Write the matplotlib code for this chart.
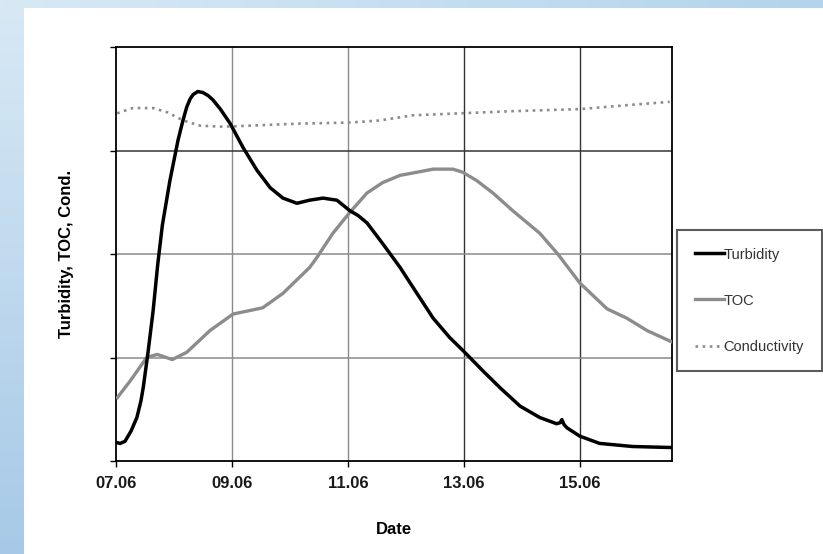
import numpy as np
import matplotlib; matplotlib.use("Agg")
import matplotlib.pyplot as plt
from matplotlib.colors import LinearSegmentedColormap

plt.rcParams["font.family"] = ["Liberation Sans", "DejaVu Sans"]

# time in days of June (7.0 = 07.06 00:00); values in grid units (0..4)
t_turb = [7.00, 7.07, 7.155, 7.26, 7.36, 7.43, 7.47, 7.55, 7.64, 7.72, 7.80, 7.93,
          8.07, 8.15, 8.22, 8.28, 8.33, 8.41, 8.50, 8.59, 8.67, 8.80, 8.97, 9.19,
          9.43, 9.66, 9.88, 10.12, 10.34, 10.57, 10.81, 11.03, 11.18, 11.33,
          11.60, 11.90, 12.19, 12.47, 12.76, 12.98, 13.33, 13.62, 13.97, 14.31,
          14.60, 14.66, 14.69, 14.73, 14.78, 15.00, 15.34, 15.91, 16.59]
turbidity = [0.18, 0.17, 0.19, 0.29, 0.42, 0.58, 0.71, 1.04, 1.45, 1.90, 2.28, 2.71,
             3.10, 3.28, 3.42, 3.50, 3.54, 3.57, 3.56, 3.53, 3.49, 3.40, 3.26, 3.03,
             2.81, 2.64, 2.54, 2.49, 2.52, 2.54, 2.52, 2.42, 2.37, 2.30,
             2.10, 1.87, 1.62, 1.38, 1.19, 1.07, 0.87, 0.71, 0.53, 0.42,
             0.36, 0.37, 0.40, 0.35, 0.32, 0.24, 0.17, 0.14, 0.13]

t_toc = [7.02, 7.24, 7.53, 7.71, 7.97, 8.22, 8.62, 9.02, 9.53, 9.88, 10.34, 10.47,
         10.74, 11.03, 11.33, 11.60, 11.90, 12.19, 12.47, 12.81, 12.98, 13.22,
         13.50, 13.84, 14.31, 14.62, 15.00, 15.47, 15.81, 16.16, 16.59]
toc = [0.61, 0.77, 1.00, 1.03, 0.98, 1.05, 1.26, 1.42, 1.48, 1.62, 1.87, 1.97,
       2.20, 2.40, 2.59, 2.69, 2.76, 2.79, 2.82, 2.82, 2.79, 2.71,
       2.59, 2.42, 2.20, 2.00, 1.72, 1.47, 1.38, 1.26, 1.15]

t_cond = [7.02, 7.29, 7.64, 7.88, 8.16, 8.45, 8.84, 9.31, 10.17, 11.03, 11.55,
          12.12, 12.98, 13.84, 15.00, 15.86, 16.55]
conductivity = [3.36, 3.41, 3.41, 3.37, 3.29, 3.24, 3.23, 3.24, 3.26, 3.27, 3.29,
                3.34, 3.36, 3.38, 3.40, 3.44, 3.47]

date_ticks = [7, 9, 11, 13, 15]
date_labels = ["07.06", "09.06", "11.06", "13.06", "15.06"]

W, H = 823, 554
fig = plt.figure(figsize=(W / 100, H / 100), dpi=100, facecolor="white")

# blue frame strips
left_cm = LinearSegmentedColormap.from_list("l", ["#d8e9f5", "#a7c9e7"])
top_cm = LinearSegmentedColormap.from_list("t", ["#d8e9f5", "#b3d4ec"])
bl = fig.add_axes([0, 0, 24 / W, 1])
bl.imshow(np.linspace(0, 1, 256).reshape(-1, 1), aspect="auto", cmap=left_cm)
bl.axis("off")
bt = fig.add_axes([0, 1 - 8 / H, 1, 8 / H])
bt.imshow(np.linspace(0, 1, 256).reshape(1, -1), aspect="auto", cmap=top_cm)
bt.axis("off")

ax = fig.add_axes([116 / W, 1 - 461 / H, (672 - 116) / W, (461 - 47) / H])
ax.set_xlim(7, 16.59)
ax.set_ylim(0, 4)

# grid
for x in date_ticks[1:]:
    ax.axvline(x, color="#333333" if x >= 13 else "#8a8a8a", lw=1, zorder=1)
for y in [1, 2, 3]:
    ax.axhline(y, color="#333333" if y == 3 else "#8a8a8a", lw=1.1, zorder=1)

ax.plot(t_cond, conductivity, color="#8c8c8c", lw=1.9, ls=(0, (1, 1.7)),
        label="Conductivity", zorder=2)
ax.plot(t_toc, toc, color="#8c8c8c", lw=2.4, label="TOC", zorder=3,
        solid_joinstyle="round")
ax.plot(t_turb, turbidity, color="black", lw=2.5, label="Turbidity", zorder=4,
        solid_joinstyle="round")

ax.set_xticks(date_ticks)
ax.set_xticklabels(date_labels, fontsize=12, fontweight="bold", color="#1a1a1a")
ax.set_yticks([0, 1, 2, 3, 4])
ax.set_yticklabels([])
ax.tick_params(direction="out", length=4, width=1, color="black", pad=7)
for s in ax.spines.values():
    s.set_color("black")
    s.set_linewidth(1.3)

ax.set_xlabel("Date", fontsize=12, fontweight="bold", labelpad=22)
ax.set_ylabel("Turbidity, TOC, Cond.", fontsize=12, fontweight="bold", labelpad=19)

h, l = ax.get_legend_handles_labels()
order = [2, 1, 0]
leg = fig.legend([h[i] for i in order], [l[i] for i in order],
                 loc="upper left", bbox_to_anchor=(677 / W, 1 - 230 / H),
                 bbox_transform=fig.transFigure, borderaxespad=0,
                 frameon=True, fancybox=False, fontsize=10.5,
                 handlelength=2.0, handletextpad=0.0, labelspacing=2.2,
                 borderpad=1.2)
leg.get_frame().set_edgecolor("#333333")
leg.get_frame().set_linewidth(1.5)
for t in leg.get_texts():
    t.set_color("#333333")

fig.savefig("out.png", dpi=100)
